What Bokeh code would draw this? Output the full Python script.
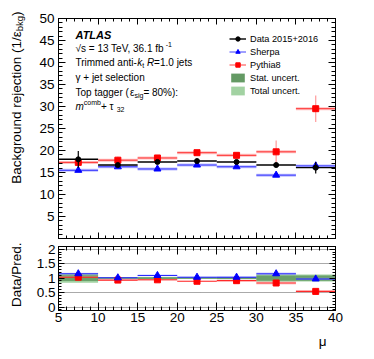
import math
from bokeh.plotting import figure
from bokeh.layouts import column, row
from bokeh.models import (Range1d, LinearAxis, SingleIntervalTicker, FixedTicker, Label,
                          Legend, LegendItem, CustomJSTickFormatter)
from bokeh.core.properties import value
from bokeh.embed import file_html
from bokeh.resources import INLINE

# ---------------- data ----------------
bin_lo = [5, 10, 15, 20, 25, 30, 35]
bin_hi = [10, 15, 20, 25, 30, 35, 40]
bin_mid = [7.5, 12.5, 17.5, 22.5, 27.5, 32.5, 37.5]

data_val = [18.0, 16.7, 17.4, 17.6, 17.4, 16.7, 16.1]
data_err = [1.9, 0.4, 0.4, 0.4, 0.4, 0.5, 1.3]
sherpa_val = [15.5, 16.3, 15.8, 16.7, 16.3, 14.4, 16.5]
sherpa_err = [0.4, 0.3, 0.3, 0.3, 0.3, 0.4, 1.0]
pythia_val = [17.3, 17.8, 18.3, 19.5, 18.9, 19.7, 29.5]
pythia_err = [0.6, 0.8, 0.5, 0.4, 0.5, 2.6, 3.0]

ratio_sherpa = [1.15, 1.01, 1.09, 1.03, 1.03, 1.15, 0.97]
ratio_sherpa_err = [0.03, 0.02, 0.03, 0.02, 0.03, 0.04, 0.04]
ratio_pythia = [1.03, 0.93, 0.94, 0.89, 0.91, 0.83, 0.54]
ratio_pythia_err = [0.03, 0.03, 0.03, 0.02, 0.03, 0.05, 0.04]
ratio_point_err = [0.10, 0.02, 0.02, 0.02, 0.02, 0.05, 0.06]
unc_stat = [0.10, 0.02, 0.03, 0.02, 0.03, 0.09, 0.09]
unc_total = [0.16, 0.03, 0.04, 0.03, 0.04, 0.13, 0.12]

legend_labels = ["Data 2015+2016", "Sherpa", "Pythia8", "Stat. uncert.", "Total uncert."]

# ---------------- style ----------------
FONT = "Liberation Sans"
BLUE = "#0000ff"
RED = "#ff0000"
BLUE_BAND = "#9a9aff"
RED_BAND = "#ff9a9a"
STAT_COL = "#649a64"
TOT_COL = "#a2d2a2"

W = {' ': 278, '%': 889, '(': 333, ')': 333, '+': 584, ',': 278, '-': 333, '.': 278, '/': 278,
     ':': 278, '=': 584, 'γ': 500, 'ε': 446, 'τ': 432, 'μ': 577, '√': 549}
for d in "0123456789":
    W[d] = 556
for ch, w in zip("ABCDEFGHIJKLMNOPQRSTUVWXYZ",
                 [667, 667, 722, 722, 667, 611, 778, 722, 278, 500, 667, 556, 833, 722, 778, 667,
                  778, 722, 667, 611, 722, 667, 944, 667, 667, 611]):
    W[ch] = w
for ch, w in zip("abcdefghijklmnopqrstuvwxyz",
                 [556, 556, 500, 556, 556, 278, 556, 556, 222, 222, 500, 222, 833, 556, 556, 556,
                  556, 333, 500, 278, 556, 500, 722, 500, 500, 500]):
    W[ch] = w
WB = {'A': 722, 'T': 611, 'L': 611, 'S': 667}


def text_width(s, size, style):
    tab = dict(W)
    if "bold" in style:
        tab.update(WB)
    return sum(tab.get(c, 556) for c in s) / 1000.0 * size


def rich(p, parts, x, y):
    """Horizontal rich text inside a frame. parts: (text, size, style, shift)."""
    for txt, size, style, shift in parts:
        lab = Label(x=x, y=y + shift, text=txt, x_units="screen", y_units="screen",
                    text_font=FONT, text_font_size=f"{size}px", text_font_style=style,
                    text_color="black", text_baseline="alphabetic", text_align="left")
        p.add_layout(lab)
        x += text_width(txt, size, style)


def rich_vertical(p, parts, x, y):
    """Rotated (bottom-to-top) rich text drawn with text glyphs in a pixel-scaled figure."""
    for txt, size, style, shift in parts:
        p.text(x=[x - shift], y=[y], text=[txt], angle=math.pi / 2,
               text_font=value(FONT), text_font_size=value(f"{size}px"),
               text_font_style=style, text_color="black",
               text_baseline="alphabetic", text_align="left")
        y += text_width(txt, size, style)


def style_axis(ax, major_in, minor_in, labels=True, size="13.5px", standoff=3):
    ax.major_tick_in = major_in
    ax.major_tick_out = 0
    ax.minor_tick_in = minor_in
    ax.minor_tick_out = 0
    ax.axis_line_color = "black"
    ax.major_tick_line_color = "black"
    ax.minor_tick_line_color = "black"
    ax.major_label_text_font = FONT
    ax.major_label_text_font_size = size
    ax.major_label_text_color = "black"
    ax.major_label_standoff = standoff
    if not labels:
        ax.formatter = CustomJSTickFormatter(code="return ''")
        ax.major_label_standoff = 0


def lower(v, e):
    return [a - b for a, b in zip(v, e)]


def upper(v, e):
    return [a + b for a, b in zip(v, e)]


def blank(width, height):
    f = figure(width=width, height=height, x_range=Range1d(0, width), y_range=Range1d(0, height),
               output_backend="svg", toolbar_location=None, x_axis_type=None, y_axis_type=None,
               min_border=0)
    f.grid.visible = False
    f.outline_line_color = None
    f.background_fill_color = "white"
    f.border_fill_color = "white"
    return f


TITLE_W = 33
TOTAL_H = 350

# ---------------- main panel ----------------
xr = Range1d(5, 40)
p1 = figure(width=332, height=242, x_range=xr, y_range=Range1d(0, 50),
            output_backend="svg", toolbar_location=None,
            min_border_left=25, min_border_right=30, min_border_top=18, min_border_bottom=4)
p1.grid.visible = False
p1.outline_line_color = "black"
p1.background_fill_color = "white"
p1.border_fill_color = "white"

xt = SingleIntervalTicker(interval=5, num_minor_ticks=5)
yt1 = SingleIntervalTicker(interval=5, num_minor_ticks=5)
p1.below[0].ticker = xt
p1.left[0].ticker = yt1
style_axis(p1.below[0], 6, 3, labels=False)
style_axis(p1.left[0], 7, 4, standoff=4)
p1.left[0].formatter = CustomJSTickFormatter(code="return tick == 0 ? '' : String(tick)")
ax = LinearAxis(ticker=xt)
style_axis(ax, 6, 3, labels=False)
p1.add_layout(ax, "above")
ax = LinearAxis(ticker=yt1)
style_axis(ax, 7, 4, labels=False)
p1.add_layout(ax, "right")

# MC: pale thick lines + error bars, then bright lines
p1.segment(x0=bin_lo, x1=bin_hi, y0=sherpa_val, y1=sherpa_val, line_color=BLUE, line_width=3, line_alpha=0.25)
p1.segment(x0=bin_lo, x1=bin_hi, y0=pythia_val, y1=pythia_val, line_color=RED, line_width=3, line_alpha=0.25)
p1.segment(x0=bin_mid, x1=bin_mid, y0=lower(sherpa_val, sherpa_err), y1=upper(sherpa_val, sherpa_err),
           line_color=BLUE, line_width=1.2, line_alpha=0.4)
p1.segment(x0=bin_mid, x1=bin_mid, y0=lower(pythia_val, pythia_err), y1=upper(pythia_val, pythia_err),
           line_color=RED, line_width=1.2, line_alpha=0.4)
s_line = p1.segment(x0=bin_lo, x1=bin_hi, y0=sherpa_val, y1=sherpa_val, line_color=BLUE, line_width=1, line_alpha=0.75)
r_line = p1.segment(x0=bin_lo, x1=bin_hi, y0=pythia_val, y1=pythia_val, line_color=RED, line_width=1, line_alpha=0.75)
s_mark = p1.scatter(bin_mid, sherpa_val, marker="triangle", size=7, color=BLUE)
r_mark = p1.scatter(bin_mid, pythia_val, marker="square", size=6, color=RED)
# Data
d_line = p1.segment(x0=bin_lo, x1=bin_hi, y0=data_val, y1=data_val, line_color="black", line_width=1.4)
p1.segment(x0=bin_mid, x1=bin_mid, y0=lower(data_val, data_err), y1=upper(data_val, data_err),
           line_color="black", line_width=1.2)
d_mark = p1.scatter(bin_mid, data_val, marker="circle", size=5, color="black")

# uncertainty bands (shown in the ratio panel; hidden here, used for the legend swatches)
ones = [1.0] * len(bin_lo)
stat_box = p1.quad(left=bin_lo, right=bin_hi, bottom=lower(ones, unc_stat), top=upper(ones, unc_stat),
                   fill_color=STAT_COL, line_color=None, visible=False)
tot_box = p1.quad(left=bin_lo, right=bin_hi, bottom=lower(ones, unc_total), top=upper(ones, unc_total),
                  fill_color=TOT_COL, line_color=None, visible=False)

legend = Legend(items=[
    LegendItem(label=legend_labels[0], renderers=[d_line, d_mark]),
    LegendItem(label=legend_labels[1], renderers=[s_line, s_mark]),
    LegendItem(label=legend_labels[2], renderers=[r_line, r_mark]),
    LegendItem(label=legend_labels[3], renderers=[stat_box]),
    LegendItem(label=legend_labels[4], renderers=[tot_box]),
], location=(171, 142))
legend.glyph_width = 17
legend.glyph_height = 11
legend.label_height = 11
legend.label_standoff = 4
legend.spacing = 2
legend.padding = 0
legend.margin = 0
legend.border_line_color = None
legend.background_fill_alpha = 0
legend.label_text_font = FONT
legend.label_text_font_size = "9.2px"
legend.label_text_color = "black"
legend.click_policy = "none"
p1.add_layout(legend)

# annotation text
x0 = 17
rich(p1, [("ATLAS", 11, "bold italic", 0)], x0, 203.3)
rich(p1, [("√s = 13 TeV, 36.1 fb", 10, "normal", 0), ("-1", 7, "normal", 4)], x0, 190)
rich(p1, [("Trimmed anti-", 10, "normal", 0), ("k", 10, "italic", 0), ("t", 7, "normal", -2.5),
          (" ", 10, "normal", 0), ("R", 10, "italic", 0), ("=1.0 jets", 10, "normal", 0)], x0, 175.7)
rich(p1, [("γ + jet selection", 10, "normal", 0)], x0, 161)
rich(p1, [("Top tagger (", 10, "normal", 0), ("ε", 10, "normal", 0), ("sig", 7, "normal", -2.5),
          (" = 80%):", 10, "normal", 0)], x0, 145.7)
rich(p1, [("m", 10, "italic", 0), ("comb", 7, "normal", 4), (" + τ", 10, "normal", 0),
          ("32", 7, "normal", -2.5)], x0, 132)

# ---------------- ratio panel ----------------
p2 = figure(width=332, height=86, x_range=xr, y_range=Range1d(-0.12, 2.09),
            output_backend="svg", toolbar_location=None,
            min_border_left=25, min_border_right=30, min_border_top=4, min_border_bottom=18)
p2.xgrid.visible = False
p2.outline_line_color = "black"
p2.background_fill_color = "white"
p2.border_fill_color = "white"
yt2 = SingleIntervalTicker(interval=0.5, num_minor_ticks=5)
p2.below[0].ticker = xt
p2.left[0].ticker = yt2
style_axis(p2.below[0], 8, 4, standoff=2)
style_axis(p2.left[0], 6, 3, standoff=3)
p2.left[0].formatter = CustomJSTickFormatter(code="return String(tick)")
ax = LinearAxis(ticker=xt)
style_axis(ax, 8, 4, labels=False)
p2.add_layout(ax, "above")
ax = LinearAxis(ticker=yt2)
style_axis(ax, 6, 3, labels=False)
p2.add_layout(ax, "right")
p2.ygrid.ticker = FixedTicker(ticks=[0, 0.5, 1, 1.5, 2])
p2.ygrid.grid_line_color = "#555555"
p2.ygrid.grid_line_dash = "1 1"
p2.ygrid.grid_line_width = 1

p2.quad(left=bin_lo, right=bin_hi, bottom=lower(ones, unc_total), top=upper(ones, unc_total),
        fill_color=TOT_COL, line_color=None)
p2.quad(left=bin_lo, right=bin_hi, bottom=lower(ones, unc_stat), top=upper(ones, unc_stat),
        fill_color=STAT_COL, line_color=None, fill_alpha=0.9)
p2.quad(left=bin_lo, right=bin_hi, bottom=lower(ratio_sherpa, ratio_sherpa_err),
        top=upper(ratio_sherpa, ratio_sherpa_err), fill_color=BLUE_BAND, fill_alpha=0.5, line_color=None)
p2.quad(left=bin_lo, right=bin_hi, bottom=lower(ratio_pythia, ratio_pythia_err),
        top=upper(ratio_pythia, ratio_pythia_err), fill_color=RED_BAND, fill_alpha=0.5, line_color=None)
p2.segment(x0=bin_lo, x1=bin_hi, y0=ratio_sherpa, y1=ratio_sherpa, line_color=BLUE, line_width=1.1, line_alpha=0.8)
p2.segment(x0=bin_lo, x1=bin_hi, y0=ratio_pythia, y1=ratio_pythia, line_color=RED, line_width=1.1, line_alpha=0.8)
p2.segment(x0=bin_mid, x1=bin_mid, y0=lower(ratio_pythia, ratio_point_err), y1=upper(ratio_pythia, ratio_point_err),
           line_color=RED, line_width=1, line_alpha=0.6)
p2.segment(x0=bin_mid, x1=bin_mid, y0=lower(ratio_sherpa, ratio_point_err), y1=upper(ratio_sherpa, ratio_point_err),
           line_color=BLUE, line_width=1, line_alpha=0.6)
p2.scatter(bin_mid, ratio_pythia, marker="square", size=6, color=RED)
p2.scatter(bin_mid, ratio_sherpa, marker="triangle", size=7, color=BLUE)

# ---------------- axis titles (pixel-scaled helper figures) ----------------
tf = blank(TITLE_W, TOTAL_H)
ytitle = [("Background rejection (1/", 13.5, "normal", 0), ("ε", 13.5, "normal", 0),
          ("bkg", 9.5, "normal", -3), (")", 13.5, "normal", 0)]
tot = sum(text_width(t, s, st) for t, s, st, _ in ytitle)
rich_vertical(tf, ytitle, 16, 339 - tot)
rich_vertical(tf, [("Data/Pred.", 13.5, "normal", 0)], 16, 108 - text_width("Data/Pred.", 13.5, "normal"))

xf = blank(332, 22)
xf.text(x=[312], y=[9], text=["μ"], text_font=value(FONT), text_font_size=value("13.5px"),
        text_color="black", text_baseline="alphabetic", text_align="left")

layout = row(tf, column(p1, p2, xf, spacing=0), spacing=0)
open("out.html", "w").write(file_html(layout, INLINE))
